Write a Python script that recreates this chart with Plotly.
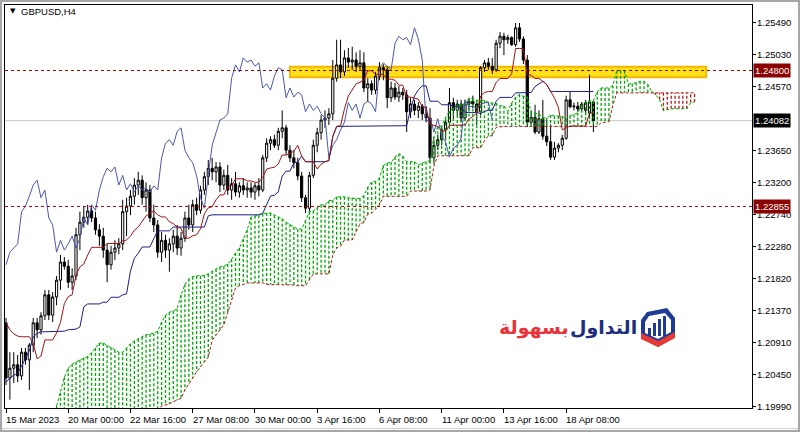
import numpy as np
import plotly.graph_objects as go

symbol_title = "GBPUSD,H4"

# ---- OHLC of the visible H4 bars (bar 0 = 15 Mar 2023) ----
opens = [1.2119,1.2040,1.2054,1.2059,1.2043,1.2077,1.2066,1.2087,1.2119,1.2109,
         1.2129,1.2159,1.2130,1.2156,1.2180,1.2206,1.2200,1.2177,1.2186,1.2245,
         1.2263,1.2270,1.2279,1.2269,1.2252,1.2243,1.2223,1.2202,1.2220,1.2226,
         1.2232,1.2278,1.2286,1.2300,1.2316,1.2323,1.2298,1.2309,1.2269,1.2259,
         1.2220,1.2237,1.2223,1.2232,1.2243,1.2226,1.2240,1.2269,1.2259,1.2288,
         1.2280,1.2309,1.2328,1.2340,1.2335,1.2342,1.2316,1.2330,1.2309,1.2318,
         1.2306,1.2315,1.2309,1.2312,1.2306,1.2315,1.2309,1.2355,1.2376,1.2381,
         1.2373,1.2393,1.2398,1.2366,1.2355,1.2348,1.2329,1.2298,1.2283,1.2330,
         1.2373,1.2391,1.2409,1.2412,1.2418,1.2469,1.2488,1.2478,1.2498,1.2492,
         1.2495,1.2486,1.2491,1.2455,1.2461,1.2452,1.2472,1.2484,1.2481,1.2441,
         1.2455,1.2442,1.2449,1.2445,1.2421,1.2432,1.2423,1.2429,1.2418,1.2412,
         1.2355,1.2373,1.2381,1.2395,1.2406,1.2434,1.2423,1.2432,1.2412,1.2432,
         1.2436,1.2432,1.2421,1.2484,1.2491,1.2486,1.2481,1.2519,1.2529,1.2524,
         1.2527,1.2517,1.2541,1.2525,1.2495,1.2406,1.2413,1.2392,1.2411,1.2386,
         1.2378,1.2356,1.2369,1.2373,1.2383,1.2438,1.2428,1.2429,1.2425,1.2423,
         1.2419,1.2435]
highs = [1.2126,1.2077,1.2077,1.2073,1.2083,1.2083,1.2090,1.2126,1.2126,1.2134,
         1.2166,1.2166,1.2163,1.2186,1.2216,1.2213,1.2209,1.2197,1.2255,1.2278,
         1.2286,1.2288,1.2285,1.2278,1.2260,1.2255,1.2232,1.2229,1.2237,1.2240,
         1.2295,1.2298,1.2309,1.2326,1.2335,1.2330,1.2320,1.2316,1.2288,1.2266,
         1.2249,1.2245,1.2240,1.2252,1.2259,1.2249,1.2278,1.2288,1.2295,1.2298,
         1.2315,1.2335,1.2352,1.2355,1.2349,1.2349,1.2338,1.2345,1.2326,1.2335,
         1.2320,1.2326,1.2320,1.2320,1.2319,1.2326,1.2359,1.2383,1.2386,1.2388,
         1.2398,1.2423,1.2402,1.2373,1.2366,1.2355,1.2335,1.2302,1.2335,1.2381,
         1.2398,1.2416,1.2423,1.2426,1.2495,1.2524,1.2524,1.2509,1.2512,1.2514,
         1.2506,1.2509,1.2506,1.2469,1.2466,1.2478,1.2492,1.2489,1.2486,1.2464,
         1.2462,1.2458,1.2455,1.2452,1.2441,1.2438,1.2435,1.2432,1.2429,1.2426,
         1.2381,1.2388,1.2399,1.2412,1.2455,1.2441,1.2438,1.2438,1.2438,1.2441,
         1.2444,1.2438,1.2486,1.2495,1.2498,1.2498,1.2524,1.2535,1.2534,1.2531,
         1.2529,1.2548,1.2548,1.2529,1.2502,1.2423,1.2431,1.2423,1.2438,1.2409,
         1.2403,1.2378,1.2376,1.2388,1.2444,1.2449,1.2434,1.2435,1.2435,1.2438,
         1.2474,1.2438]
lows = [1.2030,1.2009,1.2033,1.2034,1.2037,1.2059,1.2023,1.2077,1.2097,1.2102,
        1.2123,1.2123,1.2120,1.2144,1.2166,1.2195,1.2169,1.2166,1.2180,1.2223,
        1.2255,1.2260,1.2263,1.2245,1.2229,1.2212,1.2177,1.2195,1.2209,1.2217,
        1.2223,1.2243,1.2273,1.2288,1.2302,1.2288,1.2278,1.2263,1.2249,1.2212,
        1.2206,1.2212,1.2192,1.2220,1.2216,1.2215,1.2235,1.2252,1.2249,1.2273,
        1.2275,1.2302,1.2316,1.2323,1.2320,1.2306,1.2309,1.2302,1.2295,1.2300,
        1.2298,1.2302,1.2298,1.2298,1.2295,1.2300,1.2306,1.2349,1.2366,1.2369,
        1.2366,1.2383,1.2359,1.2349,1.2340,1.2323,1.2292,1.2276,1.2278,1.2326,
        1.2363,1.2381,1.2398,1.2402,1.2409,1.2464,1.2469,1.2472,1.2484,1.2481,
        1.2478,1.2481,1.2449,1.2435,1.2445,1.2446,1.2466,1.2466,1.2426,1.2435,
        1.2438,1.2435,1.2438,1.2392,1.2412,1.2416,1.2412,1.2409,1.2406,1.2348,
        1.2349,1.2366,1.2373,1.2383,1.2401,1.2412,1.2416,1.2406,1.2409,1.2423,
        1.2426,1.2402,1.2416,1.2478,1.2481,1.2475,1.2478,1.2512,1.2502,1.2518,
        1.2515,1.2514,1.2521,1.2489,1.2399,1.2402,1.2389,1.2389,1.2381,1.2372,
        1.2352,1.2352,1.2363,1.2366,1.2381,1.2426,1.2423,1.2421,1.2421,1.2416,
        1.2412,1.2392]
closes = [1.2040,1.2054,1.2059,1.2043,1.2077,1.2066,1.2087,1.2119,1.2109,1.2129,
          1.2159,1.2130,1.2156,1.2180,1.2206,1.2200,1.2177,1.2186,1.2245,1.2263,
          1.2270,1.2279,1.2269,1.2252,1.2243,1.2223,1.2202,1.2220,1.2226,1.2232,
          1.2278,1.2286,1.2300,1.2316,1.2323,1.2298,1.2309,1.2269,1.2259,1.2220,
          1.2237,1.2223,1.2232,1.2243,1.2226,1.2240,1.2269,1.2259,1.2288,1.2280,
          1.2309,1.2328,1.2340,1.2335,1.2342,1.2316,1.2330,1.2309,1.2318,1.2306,
          1.2315,1.2309,1.2312,1.2306,1.2315,1.2309,1.2355,1.2376,1.2381,1.2373,
          1.2393,1.2398,1.2366,1.2355,1.2348,1.2329,1.2298,1.2283,1.2330,1.2373,
          1.2391,1.2409,1.2412,1.2418,1.2469,1.2488,1.2478,1.2498,1.2492,1.2495,
          1.2486,1.2491,1.2455,1.2461,1.2452,1.2472,1.2484,1.2481,1.2441,1.2455,
          1.2442,1.2449,1.2445,1.2421,1.2432,1.2423,1.2429,1.2418,1.2412,1.2355,
          1.2373,1.2381,1.2395,1.2406,1.2434,1.2423,1.2432,1.2412,1.2432,1.2436,
          1.2432,1.2421,1.2484,1.2491,1.2486,1.2481,1.2519,1.2529,1.2524,1.2527,
          1.2517,1.2541,1.2525,1.2495,1.2406,1.2413,1.2392,1.2411,1.2386,1.2378,
          1.2356,1.2369,1.2373,1.2383,1.2438,1.2428,1.2429,1.2425,1.2432,1.2434,
          1.2435,1.24082]

tenkan_early = [1.2119,1.2109,1.2103,1.2100,1.2099,1.2099,1.2099,1.2090]          # bars 0-7
kijun_early = [1.2034,1.2040,1.2044,1.2047,1.2057,1.2069,1.2079,1.2099,1.2104,1.2106,
               1.2106,1.2106,1.2106,1.2106,1.2106,1.2107,1.2109,1.2109,1.2110,1.2113,
               1.2142,1.2146,1.2146,1.2146,1.2146]                                    # bars 0-24
cloud_first_bar = 13
span_a_early = [1.2000,1.2019,1.2041,1.2054,1.2060,1.2063,1.2066,1.2069,1.2071,1.2076,
                1.2083,1.2090,1.2090,1.2087,1.2084,1.2080,1.2077,1.2077,1.2083,1.2089,
                1.2093,1.2096,1.2099,1.2102,1.2103,1.2104,1.2107,1.2120,1.2130,1.2134,
                1.2136,1.2139,1.2159,1.2174,1.2182,1.2185,1.2186,1.2186,1.2187,1.2189,
                1.2193,1.2196,1.2199,1.2200,1.2203,1.2210,1.2219,1.2226,1.2239,1.2252,
                1.2270,1.2272,1.2273,1.2275,1.2276,1.2276,1.2273,1.2270,1.2268,1.2263,
                1.2260,1.2256,1.2253,1.2253]                                         # bars 13-76
span_b_early = [1.1993]*26 + [1.1994,1.2000,1.2001,1.2003,1.2006,1.2009,1.2011,1.2023,
                1.2031,1.2040,1.2049,1.2056,1.2063,1.2070,1.2094,1.2102,1.2109,1.2116,
                1.2134,1.2152,1.2169,1.2172,1.2174,1.2176,1.2176,1.2176,1.2176,1.2176,
                1.2174,1.2174,1.2174,1.2174,1.2174,1.2173,1.2173,1.2173,1.2172,1.2172]  # bars 13-76

tick_bars = [0, 16, 32, 48, 64, 80, 96, 112, 128, 144]
tick_labels = ["15 Mar 2023", "20 Mar 00:00", "22 Mar 16:00", "27 Mar 08:00", "30 Mar 00:00",
               "3 Apr 16:00", "6 Apr 08:00", "11 Apr 00:00", "13 Apr 16:00", "18 Apr 08:00"]
price_ticks = [1.25490, 1.25030, 1.24570, 1.23650, 1.23200, 1.22740, 1.22280,
               1.21820, 1.21370, 1.20910, 1.20450, 1.19990]

resistance_level = 1.24800
support_level = 1.22855
bid_price = 1.24082
zone_low, zone_high = 1.24703, 1.24854
zone_bars = (73, 180)

# ---- Ichimoku (9, 26, 52) from the bars ----
n = len(closes)
H = np.array(highs)
L = np.array(lows)


def midpoint(i, p):
    return (H[i - p + 1:i + 1].max() + L[i - p + 1:i + 1].min()) / 2


tenkan = tenkan_early + [midpoint(i, 9) for i in range(8, n)]
kijun = kijun_early + [midpoint(i, 26) for i in range(25, n)]
span_a = span_a_early + [(tenkan[j - 26] + kijun[j - 26]) / 2 for j in range(77, n + 26)]
span_b = span_b_early + [midpoint(j - 26, 52) for j in range(77, n + 26)]
cloud_x = list(range(cloud_first_bar, n + 26))
chikou_x = list(range(0, n - 26))
chikou_y = closes[26:]

gx, gy, rx, ry = [], [], [], []
for x, a, b in zip(cloud_x, span_a, span_b):
    if a >= b:
        gx += [x, x, None]; gy += [a, b, None]
    else:
        rx += [x, x, None]; ry += [a, b, None]

GREEN = "#00a800"
RED = "#b01818"

fig = go.Figure()
fig.add_trace(go.Scatter(x=gx, y=gy, mode="lines", line=dict(color=GREEN, width=1.3, dash="3px,2px"),
                         line_simplify=False, hoverinfo="skip"))
fig.add_trace(go.Scatter(x=rx, y=ry, mode="lines", line=dict(color=RED, width=1.3, dash="3px,2px"),
                         line_simplify=False, hoverinfo="skip"))
fig.add_trace(go.Scatter(x=cloud_x, y=span_a, mode="lines", line=dict(color=GREEN, width=1, dash="3px,2px")))
fig.add_trace(go.Scatter(x=cloud_x, y=span_b, mode="lines", line=dict(color=RED, width=1, dash="3px,2px")))
fig.add_trace(go.Scatter(x=chikou_x, y=chikou_y, mode="lines", line=dict(color="#4a58b0", width=1)))
fig.add_trace(go.Scatter(x=list(range(n)), y=kijun, mode="lines", line=dict(color="#1a1f86", width=1)))
fig.add_trace(go.Scatter(x=list(range(n)), y=tenkan, mode="lines", line=dict(color="#a01515", width=1)))
fig.add_trace(go.Candlestick(
    x=list(range(n)), open=opens, high=highs, low=lows, close=closes,
    increasing=dict(fillcolor="white", line=dict(color="black", width=1)),
    decreasing=dict(fillcolor="black", line=dict(color="black", width=1)),
    whiskerwidth=0,
))

ML, MR, MT, MB = 5, 48, 5, 24
PW, PH = 800 - ML - MR, 432 - MT - MB


def px(X):
    return (X - ML) / PW


def py(Y):
    return (432 - MB - Y) / PH


shapes = [
    dict(type="rect", xref="x", yref="y", x0=zone_bars[0], x1=zone_bars[1], y0=zone_low, y1=zone_high,
         fillcolor="#ffe119", line=dict(color="#f2b705", width=2), layer="below"),
    dict(type="line", xref="paper", yref="y", x0=0, x1=1, y0=bid_price, y1=bid_price,
         line=dict(color="#c8c8c8", width=1), layer="below"),
    dict(type="line", xref="paper", yref="y", x0=0, x1=1, y0=resistance_level, y1=resistance_level,
         line=dict(color="#a00000", width=1, dash="3px,3px")),
    dict(type="line", xref="paper", yref="y", x0=0, x1=1, y0=support_level, y1=support_level,
         line=dict(color="#a00000", width=1, dash="3px,3px")),
    # outer window frame
    dict(type="rect", xref="paper", yref="paper", x0=px(1), x1=px(799), y0=py(1), y1=py(431),
         line=dict(color="#a8a8a8", width=2)),
    dict(type="line", xref="paper", yref="paper", x0=px(2), x1=px(798), y0=py(428.5), y1=py(428.5),
         line=dict(color="#d0d0d0", width=1)),
    # logo icon
    dict(type="path", xref="paper", yref="paper", fillcolor="#1f3c94", line=dict(width=0),
         path="M {} {} L {} {} L {} {} L {} {} L {} {} L {} {} L {} {} Z".format(
             px(647), py(312), px(667), py(308), px(675), py(318), px(675), py(337),
             px(658), py(347), px(641), py(338), px(641), py(320))),
    dict(type="path", xref="paper", yref="paper", fillcolor="white", line=dict(width=0),
         path="M {} {} L {} {} L {} {} L {} {} L {} {} L {} {} L {} {} Z".format(
             px(649), py(316), px(665), py(313), px(671), py(320), px(671), py(332),
             px(658), py(339), px(645), py(333), px(645), py(322))),
    dict(type="path", xref="paper", yref="paper", fillcolor="#e53935", line=dict(width=0),
         path="M {} {} L {} {} L {} {} L {} {} L {} {} L {} {} Z".format(
             px(641), py(333), px(658), py(341), px(675), py(332), px(675), py(338),
             px(658), py(347), px(641), py(339))),
]
for x0, top in [(648, 328), (653, 323), (658, 319), (663, 316)]:
    shapes.append(dict(type="rect", xref="paper", yref="paper", x0=px(x0), x1=px(x0 + 3),
                       y0=py(336), y1=py(top), fillcolor="#1f3c94", line=dict(width=0)))

annotations = []
for b, t in zip(tick_bars, tick_labels):
    annotations.append(dict(x=b, xref="x", y=0, yref="paper", yanchor="top", xanchor="left",
                            yshift=-4, xshift=-2, text=t, showarrow=False,
                            font=dict(family="Liberation Sans", size=9.5, color="black")))
for v in price_ticks:
    annotations.append(dict(x=1, xref="paper", xanchor="left", xshift=3, y=v, yref="y",
                            yanchor="middle", text="{:.5f}".format(v), showarrow=False,
                            font=dict(family="Liberation Sans", size=9.5, color="black")))
for val, bg in [(resistance_level, "#8b0000"), (support_level, "#8b0000"), (bid_price, "#000000")]:
    annotations.append(dict(x=1, xref="paper", xanchor="left", xshift=1, y=val, yref="y",
                            yanchor="middle", text="{:.5f}".format(val), showarrow=False,
                            bgcolor=bg, borderpad=1,
                            font=dict(family="Liberation Sans", size=9.5, color="white")))
annotations += [
    dict(x=px(8), y=py(11), xref="paper", yref="paper", xanchor="left", yanchor="middle",
         text="▼", showarrow=False, font=dict(family="DejaVu Sans", size=7, color="black")),
    dict(x=px(19), y=py(11), xref="paper", yref="paper", xanchor="left", yanchor="middle",
         text=symbol_title, showarrow=False, font=dict(family="Liberation Sans", size=9.5, color="black")),
    dict(x=px(639), y=py(327), xref="paper", yref="paper", xanchor="right", yanchor="middle",
         text="<b>التداول</b>", showarrow=False, font=dict(family="DejaVu Sans", size=19, color="#1e2d7d")),
    dict(x=px(571), y=py(327), xref="paper", yref="paper", xanchor="right", yanchor="middle",
         text="<b>بسهولة</b>", showarrow=False, font=dict(family="DejaVu Sans", size=19, color="#e8333a")),
]

fig.update_layout(
    width=800, height=432, margin=dict(l=ML, r=MR, t=MT, b=MB, autoexpand=False),
    paper_bgcolor="white", plot_bgcolor="white", showlegend=False, boxgap=0.2,
    hovermode=False, shapes=shapes, annotations=annotations,
    xaxis=dict(range=[-0.257, 191.77], showgrid=False, zeroline=False, showline=True,
               linecolor="black", linewidth=1, mirror=True, ticks="outside", ticklen=4,
               tickcolor="black", tickvals=tick_bars, showticklabels=False, automargin=False,
               rangeslider=dict(visible=False), fixedrange=True),
    yaxis=dict(side="right", range=[1.19971, 1.25737], showgrid=False, zeroline=False,
               showline=True, linecolor="black", linewidth=1, mirror=True, ticks="outside",
               ticklen=3, tickcolor="black", tickvals=price_ticks, showticklabels=False,
               automargin=False, fixedrange=True),
)

fig.write_html("out.html", config={"displayModeBar": False},
               post_script="document.body.style.margin='0px';")
